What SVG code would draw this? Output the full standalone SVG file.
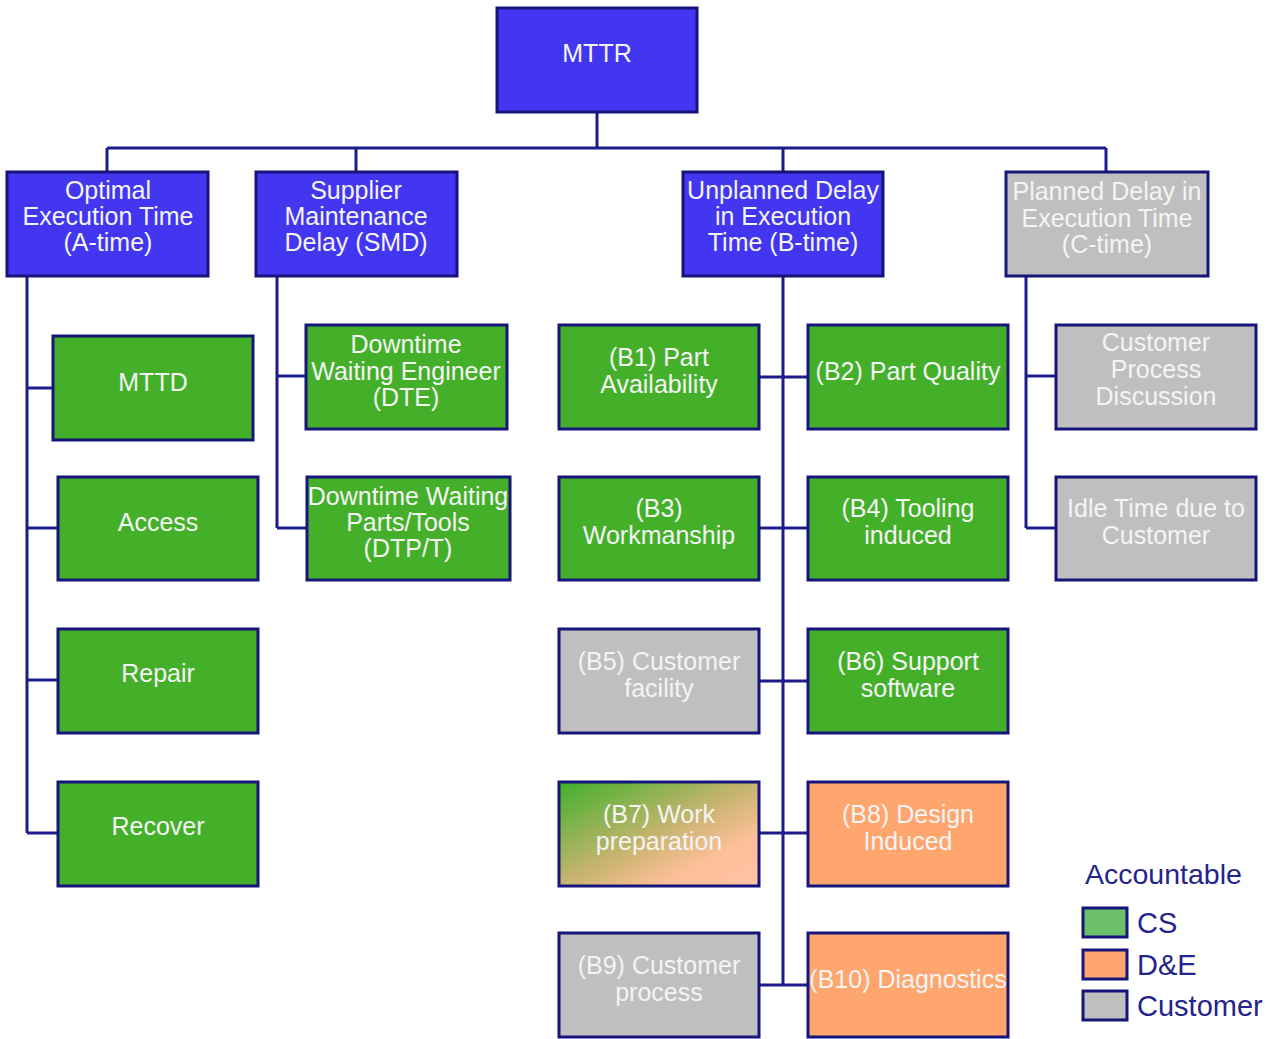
<svg xmlns="http://www.w3.org/2000/svg" width="1273" height="1039" viewBox="0 0 1273 1039">
<style>
.n{stroke:#15157a;stroke-width:3}
.blue{fill:#4236f0}
.green{fill:#44b02a}
.gray{fill:#bfbfbf}
.orange{fill:#ffa56e}
.t{font-family:"Liberation Sans",Arial,sans-serif;font-size:25px;fill:#f4f4f4;text-anchor:middle}
.c{stroke:#1c1c8c;stroke-width:3;fill:none}
.lg{font-family:"Liberation Sans",Arial,sans-serif;fill:#24248c}
</style>
<defs>
<linearGradient id="b7" x1="0" y1="0" x2="1" y2="1">
<stop offset="0" stop-color="#3fb02a"/>
<stop offset="0.5" stop-color="#c8b470"/>
<stop offset="0.75" stop-color="#fdbf98"/>
<stop offset="1" stop-color="#ffc4a6"/>
</linearGradient>
</defs>
<rect width="1273" height="1039" fill="#ffffff"/>
<g id="connectors">
<path class="c" d="M597 112V148M107 148H1106M107 148V172M356 148V172M783 148V172M1106 148V172"/>
<path class="c" d="M27 276V833M27 388H53M27 528H58M27 680H58M27 833H58"/>
<path class="c" d="M277 276V528M277 376H306M277 528H307"/>
<path class="c" d="M783 276V985M759 377H808M759 528H808M759 681H808M759 833H808M759 985H808"/>
<path class="c" d="M1026 276V528M1026 376H1056M1026 528H1056"/>
</g>
<g id="mttr"><rect class="n blue" x="497" y="8" width="200" height="104"/><text class="t" x="597" y="62">MTTR</text></g>
<g id="a-time"><rect class="n blue" x="7" y="172" width="201" height="104"/><text class="t" x="108" y="199">Optimal</text><text class="t" x="108" y="225">Execution Time</text><text class="t" x="108" y="251">(A-time)</text></g>
<g id="smd"><rect class="n blue" x="256" y="172" width="201" height="104"/><text class="t" x="356" y="199">Supplier</text><text class="t" x="356" y="225">Maintenance</text><text class="t" x="356" y="251">Delay (SMD)</text></g>
<g id="b-time"><rect class="n blue" x="683" y="172" width="200" height="104"/><text class="t" x="783" y="199">Unplanned Delay</text><text class="t" x="783" y="225">in Execution</text><text class="t" x="783" y="251">Time (B-time)</text></g>
<g id="c-time"><rect class="n gray" x="1006" y="172" width="202" height="104"/><text class="t" x="1107" y="200">Planned Delay in</text><text class="t" x="1107" y="227">Execution Time</text><text class="t" x="1107" y="253">(C-time)</text></g>
<g id="mttd"><rect class="n green" x="53" y="336" width="200" height="104"/><text class="t" x="153" y="391">MTTD</text></g>
<g id="access"><rect class="n green" x="58" y="477" width="200" height="103"/><text class="t" x="158" y="531">Access</text></g>
<g id="repair"><rect class="n green" x="58" y="629" width="200" height="104"/><text class="t" x="158" y="682">Repair</text></g>
<g id="recover"><rect class="n green" x="58" y="782" width="200" height="104"/><text class="t" x="158" y="835">Recover</text></g>
<g id="dte"><rect class="n green" x="306" y="325" width="201" height="104"/><text class="t" x="406" y="353">Downtime</text><text class="t" x="406" y="380">Waiting Engineer</text><text class="t" x="406" y="406">(DTE)</text></g>
<g id="dtpt"><rect class="n green" x="307" y="477" width="203" height="103"/><text class="t" x="408" y="505">Downtime Waiting</text><text class="t" x="408" y="531">Parts/Tools</text><text class="t" x="408" y="557">(DTP/T)</text></g>
<g id="b1"><rect class="n green" x="559" y="325" width="200" height="104"/><text class="t" x="659" y="366">(B1) Part</text><text class="t" x="659" y="393">Availability</text></g>
<g id="b2"><rect class="n green" x="808" y="325" width="200" height="104"/><text class="t" x="908" y="380">(B2) Part Quality</text></g>
<g id="b3"><rect class="n green" x="559" y="477" width="200" height="103"/><text class="t" x="659" y="517">(B3)</text><text class="t" x="659" y="544">Workmanship</text></g>
<g id="b4"><rect class="n green" x="808" y="477" width="200" height="103"/><text class="t" x="908" y="517">(B4) Tooling</text><text class="t" x="908" y="544">induced</text></g>
<g id="b5"><rect class="n gray" x="559" y="629" width="200" height="104"/><text class="t" x="659" y="670">(B5) Customer</text><text class="t" x="659" y="697">facility</text></g>
<g id="b6"><rect class="n green" x="808" y="629" width="200" height="104"/><text class="t" x="908" y="670">(B6) Support</text><text class="t" x="908" y="697">software</text></g>
<g id="b7"><rect class="n" fill="url(#b7)" x="559" y="782" width="200" height="104"/><text class="t" x="659" y="823">(B7) Work</text><text class="t" x="659" y="850">preparation</text></g>
<g id="b8"><rect class="n orange" x="808" y="782" width="200" height="104"/><text class="t" x="908" y="823">(B8) Design</text><text class="t" x="908" y="850">Induced</text></g>
<g id="b9"><rect class="n gray" x="559" y="933" width="200" height="104"/><text class="t" x="659" y="974">(B9) Customer</text><text class="t" x="659" y="1001">process</text></g>
<g id="b10"><rect class="n orange" x="808" y="933" width="200" height="104"/><text class="t" x="908" y="988">(B10) Diagnostics</text></g>
<g id="cpd"><rect class="n gray" x="1056" y="325" width="200" height="104"/><text class="t" x="1156" y="351">Customer</text><text class="t" x="1156" y="378">Process</text><text class="t" x="1156" y="405">Discussion</text></g>
<g id="idle"><rect class="n gray" x="1056" y="477" width="200" height="103"/><text class="t" x="1156" y="517">Idle Time due to</text><text class="t" x="1156" y="544">Customer</text></g>
<g id="legend">
<text class="lg" x="1085" y="884" font-size="28.5">Accountable</text>
<rect x="1083" y="908" width="44" height="29" fill="#6cc068" stroke="#15157a" stroke-width="3"/>
<text class="lg" x="1137" y="933" font-size="29">CS</text>
<rect x="1083" y="950" width="44" height="29" fill="#ffa56e" stroke="#15157a" stroke-width="3"/>
<text class="lg" x="1137" y="975" font-size="29">D&amp;E</text>
<rect x="1083" y="991" width="44" height="29" fill="#bfbfbf" stroke="#15157a" stroke-width="3"/>
<text class="lg" x="1137" y="1016" font-size="29">Customer</text>
</g>
</svg>
